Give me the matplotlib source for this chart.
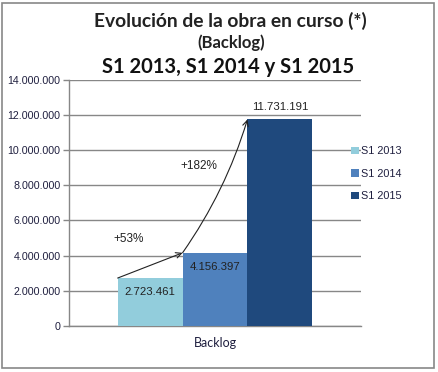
import matplotlib
matplotlib.use('Agg')
import matplotlib.pyplot as plt
import matplotlib.ticker as ticker
from matplotlib.patches import Rectangle

# data
series = ['S1 2013', 'S1 2014', 'S1 2015']
values = [2723461, 4156397, 11731191]
growth = ['+53%', '+182%']
category = 'Backlog'
colors = ['#92CDDC', '#4F81BD', '#1F497D']

W, H = 438, 372
fig = plt.figure(figsize=(W / 100, H / 100), dpi=100)
ax = fig.add_axes([69 / W, 1 - 326 / H, (361 - 69) / W, (326 - 79.5) / H])

num_font = 'Liberation Sans'
title_font = 'Lato'
txt_col = '#1f1f3f'


def dots(v, pos=None):
    return '{:,.0f}'.format(v).replace(',', '.')


xs = [-1, 0, 1]
for x, v, c, s in zip(xs, values, colors, series):
    ax.bar(x, v, width=1.0, color=c, label=s, zorder=3)

ax.set_xlim(-2.25, 2.25)
ax.set_ylim(0, 14000000)
ax.yaxis.set_major_locator(ticker.MultipleLocator(2000000))
ax.yaxis.set_major_formatter(ticker.FuncFormatter(dots))
ax.grid(axis='y', color='#878787', linewidth=1.0, zorder=0)
ax.set_axisbelow(True)
for sp in ['top', 'right']:
    ax.spines[sp].set_visible(False)
for sp in ['left', 'bottom']:
    ax.spines[sp].set_color('#878787')
    ax.spines[sp].set_linewidth(1.0)
ax.tick_params(axis='y', length=4, width=1, color='#878787', pad=2,
               labelsize=7.7, labelcolor=txt_col)
for t in ax.get_yticklabels():
    t.set_fontfamily(num_font)
ax.set_xticks([0])
ax.set_xticklabels([category], fontsize=9, color=txt_col, fontfamily=title_font)
ax.tick_params(axis='x', length=0, pad=8)

# data labels
lab = dict(ha='center', va='center', fontsize=8.2, color='#222222',
           fontfamily=num_font, zorder=5)
ax.text(xs[0], values[0] - 820000, dots(values[0]), **lab)
ax.text(xs[1], values[1] - 820000, dots(values[1]), **lab)
ax.text(xs[2], values[2] + 720000, dots(values[2]), **lab)

# growth arrows from corner to corner
ax.annotate('', xy=(xs[1] - 0.5, values[1]), xytext=(xs[0] - 0.5, values[0]),
            arrowprops=dict(arrowstyle='->', color='#222222', lw=0.8,
                            shrinkA=0, shrinkB=0), zorder=6)
ax.annotate('', xy=(xs[2] - 0.5, values[2]), xytext=(xs[1] - 0.5, values[1]),
            arrowprops=dict(arrowstyle='->', color='#222222', lw=0.8,
                            shrinkA=0, shrinkB=0,
                            connectionstyle='arc3,rad=0.08'), zorder=6)
fig.text(129 / W, 1 - 239 / H, growth[0], ha='center', va='center',
         fontsize=8.5, color='#222222', fontfamily=num_font)
fig.text(199 / W, 1 - 166 / H, growth[1], ha='center', va='center',
         fontsize=8.5, color='#222222', fontfamily=num_font)

# titles
fig.text(230 / W, 1 - 21 / H, 'Evolución de la obra en curso (*)', ha='center',
         va='center', fontsize=13.9, fontweight='bold', color='#222222',
         fontfamily=title_font)
fig.text(231 / W, 1 - 43 / H, '(Backlog)', ha='center', va='center',
         fontsize=12, fontweight='bold', color='#222222', fontfamily=title_font)
fig.text(228 / W, 1 - 67 / H, 'S1 2013, S1 2014 y S1 2015', ha='center',
         va='center', fontsize=14.5, fontweight='bold', color='#111111',
         fontfamily=title_font)

# legend
leg = fig.legend(loc='upper left', bbox_to_anchor=(347 / W, 1 - 142 / H),
                 frameon=False, handlelength=0.7, handleheight=0.7,
                 handletextpad=0.2, labelspacing=1.15, borderaxespad=0,
                 prop={'family': num_font, 'size': 7.8})
for t in leg.get_texts():
    t.set_color(txt_col)

# outer chart border
fig.patches.append(Rectangle((2 / W, 1 - 368 / H), 432 / W, 365 / H,
                             transform=fig.transFigure, fill=False,
                             edgecolor='#878787', linewidth=1.2))

fig.savefig('out.png', dpi=100)
